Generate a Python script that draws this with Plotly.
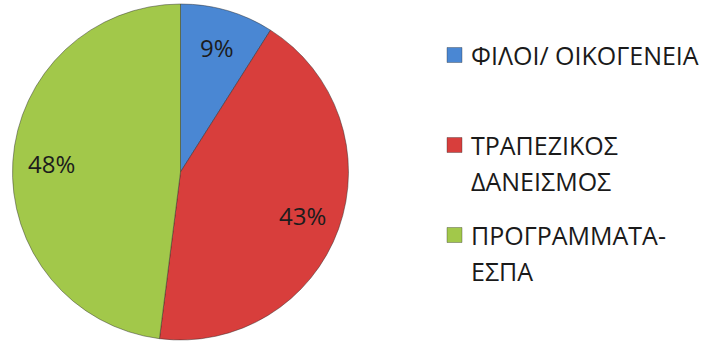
import math
import plotly.graph_objects as go

# Funding sources (percent of respondents)
labels = ["ΦΙΛΟΙ/ ΟΙΚΟΓΕΝΕΙΑ", "ΤΡΑΠΕΖΙΚΟΣ ΔΑΝΕΙΣΜΟΣ", "ΠΡΟΓΡΑΜΜΑΤΑ-ΕΣΠΑ"]
legend_lines = [["ΦΙΛΟΙ/ ΟΙΚΟΓΕΝΕΙΑ"], ["ΤΡΑΠΕΖΙΚΟΣ", "ΔΑΝΕΙΣΜΟΣ"], ["ΠΡΟΓΡΑΜΜΑΤΑ-", "ΕΣΠΑ"]]
values = [9, 43, 48]
colors = ["#4A87D3", "#D83E3C", "#A2C84A"]

W, H = 709, 345
FONT = "Open Sans"

# pie placement in pixels
cx, cy, rad = 180.5, 172.0, 168.0
dom_x = [(cx - rad) / W, (cx + rad) / W]
dom_y = [1 - (cy + rad) / H, 1 - (cy - rad) / H]

fig = go.Figure(go.Pie(
    labels=labels,
    values=values,
    sort=False,
    direction="clockwise",
    rotation=0,
    marker=dict(colors=colors, line=dict(color="rgba(40,40,40,0.45)", width=1)),
    textinfo="none",
    hoverinfo="label+percent",
    showlegend=False,
    domain=dict(x=dom_x, y=dom_y),
))

annotations = []
shapes = []

# percentage labels at each slice's mid-angle
total = sum(values)
cum = 0
for v in values:
    mid = (cum + v / 2) / total * 2 * math.pi
    cum += v
    r = 0.77 * rad
    px = cx + r * math.sin(mid)
    py = cy - r * math.cos(mid)
    annotations.append(dict(
        x=px / W, y=1 - py / H, xref="paper", yref="paper",
        text=f"{round(v / total * 100)}%", showarrow=False,
        font=dict(family=FONT, size=24, color="#1c1c1c"),
        xanchor="center", yanchor="middle",
    ))

# legend: swatch + one annotation per text line
entry_top = [55, 145, 235]
line_gap = 36
for lines, col, y0 in zip(legend_lines, colors, entry_top):
    shapes.append(dict(
        type="rect", xref="paper", yref="paper",
        x0=447 / W, x1=462 / W, y0=1 - (y0 + 7.5) / H, y1=1 - (y0 - 7.5) / H,
        fillcolor=col, line=dict(color="rgba(40,40,40,0.35)", width=1),
    ))
    for i, t in enumerate(lines):
        annotations.append(dict(
            x=469 / W, y=1 - (y0 + i * line_gap) / H, xref="paper", yref="paper",
            text=t, showarrow=False,
            font=dict(family=FONT, size=25, color="#1a1a1a"),
            xanchor="left", yanchor="middle",
        ))

fig.update_layout(
    width=W, height=H,
    margin=dict(l=0, r=0, t=0, b=0),
    paper_bgcolor="white", plot_bgcolor="white",
    annotations=annotations, shapes=shapes,
)

fig.write_html("out.html")
